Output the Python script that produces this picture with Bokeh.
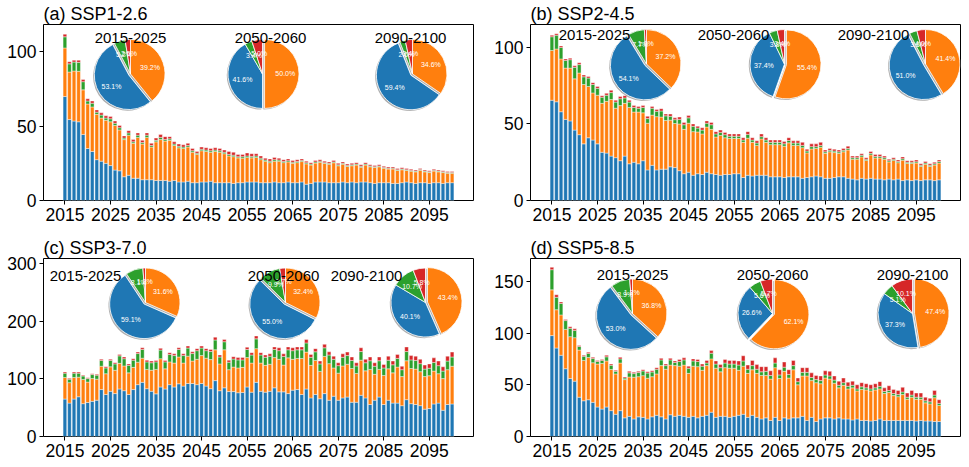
import math
from bokeh.plotting import figure
from bokeh.models import Range1d, FixedTicker, ColumnDataSource
from bokeh.layouts import column, row
from bokeh.core.properties import value
from bokeh.embed import file_html
from bokeh.resources import INLINE

years = list(range(2015, 2101))
colors = ["#1f77b4", "#ff7f0e", "#2ca02c", "#d62728"]
periods = ["2015-2025", "2050-2060", "2090-2100"]

# ---- SSP1-2.6 : four stacked components per year ----
ssp126_c1 = [70, 54.5, 53.5, 53, 44.5, 35, 33, 27.5, 26.5, 25,
             23.5, 20.5, 20, 16, 17, 15, 15, 14, 14, 14,
             13.5, 13.5, 13.5, 13, 13.5, 12.5, 12.5, 13, 12, 12,
             12.5, 12.5, 13, 12, 12, 12, 12, 11.5, 12, 12,
             12.5, 12.5, 12.5, 12, 12, 12, 12.5, 12, 12, 12.5,
             12, 12, 12.5, 11, 11.5, 12.5, 12.5, 12.5, 12, 12,
             12, 12.5, 12, 12.5, 12, 12.5, 12.5, 12, 11.5, 12,
             12, 12, 11.5, 11.5, 12, 12.5, 12, 11.5, 12, 12,
             11.5, 12, 12, 11.5, 12, 12]
ssp126_c2 = [32.7, 32, 33.7, 34, 30, 30, 30, 30.5, 29, 29,
             29.5, 30, 27.5, 25, 27, 23.5, 27.5, 24, 28.5, 22,
             26, 27.5, 26.5, 27.5, 23.5, 23, 22.5, 23, 20.5, 19,
             21, 20.5, 19.5, 21, 20.5, 19.5, 18, 18, 16.7, 16.5,
             16.5, 16.2, 16.5, 15.5, 14.5, 13.5, 14, 14.5, 13.5, 13.5,
             13, 13.5, 13.7, 13.7, 12.4, 12.7, 13.2, 12.4, 12.4, 13.4,
             11.4, 11.9, 10.9, 10.9, 11.9, 9.9, 11.4, 10.7, 10.7, 10.7,
             9.7, 9.2, 9.7, 8.7, 8.7, 7.7, 7.7, 7.8, 8.3, 7.3,
             7.3, 7.8, 7.3, 7.3, 6.3, 6.3]
ssp126_c3 = [7.5, 5.5, 6, 6, 5.5, 2, 2.5, 1.5, 2, 1.5,
             2, 1.5, 1.5, 1, 1.5, 1, 1.5, 1, 1.5, 1,
             1, 1.5, 1, 1, 1, 1, 1, 1, 1, 0.8,
             1, 1, 1, 1, 1, 1, 1, 1, 0.8, 1,
             1, 1, 1, 1, 0.8, 1, 1, 0.8, 0.8, 0.8,
             0.8, 0.8, 0.8, 0.8, 0.6, 0.8, 0.8, 0.6, 0.6, 0.6,
             0.6, 0.6, 0.6, 0.6, 0.6, 0.6, 0.6, 0.5, 0.5, 0.5,
             0.5, 0.5, 0.5, 0.5, 0.5, 0.5, 0.5, 0.5, 0.5, 0.5,
             0.5, 0.5, 0.5, 0.5, 0.5, 0.5]
ssp126_c4 = [1.8, 1.5, 1.3, 1.5, 1.5, 1.5, 1.5, 1.5, 1.5, 1.5,
             1.5, 1.5, 1.5, 1.5, 1.5, 1.5, 1.5, 1.5, 1.5, 1.5,
             1.5, 2, 2, 1.5, 1.5, 1.5, 1.5, 1.5, 1.5, 1.2,
             1.5, 1.5, 1.5, 1.5, 1.5, 1.5, 2, 2, 1.5, 1.5,
             2, 1.8, 1.5, 1.5, 1.2, 1.5, 1.5, 1.2, 1.2, 1.2,
             1.2, 1.2, 1, 1, 1, 1, 1, 1, 1, 1,
             1, 1, 1, 1, 1, 1, 1, 0.8, 0.8, 0.8,
             0.8, 0.8, 0.8, 0.8, 0.8, 0.8, 0.8, 0.7, 0.7, 0.7,
             0.7, 0.7, 0.7, 0.7, 0.7, 0.7]

# ---- SSP2-4.5 ----
ssp245_c1 = [65.5, 64.5, 58, 53, 52, 46, 43, 37, 41, 39.5,
             37, 31.5, 31, 29, 28, 26, 29, 24, 25, 24,
             26, 20, 23, 20, 20.5, 20.5, 22, 21.5, 19.5, 17.5,
             18.5, 16.5, 17.5, 17, 18.5, 17.5, 17, 16.5, 17, 17,
             17.5, 17.5, 15, 16.5, 16, 16.5, 16.5, 16.5, 15.5, 15.5,
             15.5, 15, 15.5, 15.5, 15.5, 14.5, 15, 15.5, 16, 15.5,
             14.5, 14.5, 15, 15.5, 15.5, 14.5, 14, 13.5, 14.5, 14,
             14.5, 14, 14, 13.5, 14, 13.5, 14, 13, 13.5, 13,
             13.5, 13, 13.5, 13.5, 13, 13.5]
ssp245_c2 = [32.5, 34.5, 34.5, 33.5, 34.5, 33.5, 40.3, 38.8, 33.5, 30.8,
             31.8, 32, 33.8, 37, 32.3, 36, 34.5, 36.8, 32.8, 33.8,
             31.3, 30.5, 32.8, 34.8, 34, 31.8, 30.5, 28.8, 30.5, 29,
             32, 28.5, 27.3, 26.5, 29.5, 29, 24.5, 26, 24, 23.5,
             23, 23, 23, 24.2, 22, 19.5, 23.7, 21.5, 21, 21,
             21, 20.5, 22.2, 20.5, 20.5, 20, 16.1, 18.2, 18, 19.3,
             16.3, 17.3, 16.3, 15.3, 16.3, 18.5, 13, 13.5, 14, 12.2,
             15.3, 13.8, 13.8, 13.5, 11.2, 12.7, 10.7, 13.3, 10.7, 11.2,
             11, 9.2, 10.2, 8.7, 10.2, 11]
ssp245_c3 = [9, 9, 7.5, 5, 5.5, 7.5, 5.5, 5, 5.5, 5.5,
             4.5, 4, 4, 4.5, 4, 4.5, 3.5, 3.5, 3, 2.5,
             3.5, 3, 4.5, 3.5, 4, 3, 2.5, 2.5, 3, 3,
             3.5, 3.5, 2.5, 2.5, 2.5, 3, 2, 2, 2, 1.5,
             1.5, 1.5, 1.5, 2.5, 1.5, 1.5, 1.5, 1.5, 1.5, 1.5,
             1.5, 1.5, 1.5, 1.5, 1.5, 1.5, 1.2, 1.5, 1.2, 1.2,
             1, 1, 1, 1, 1, 1, 1, 1, 1, 0.8,
             1, 1, 1, 1, 0.8, 0.8, 0.8, 1, 0.8, 0.8,
             0.8, 0.8, 0.8, 0.8, 0.8, 1]
ssp245_c4 = [1, 1, 1, 1, 1, 1, 1.2, 1.2, 1, 1.2,
             1.2, 1, 1.2, 1.5, 1.2, 1.5, 1.5, 1.2, 1.2, 1.2,
             1.2, 1.5, 1.2, 1.2, 1.5, 1.2, 1.5, 1.2, 1.5, 1.5,
             1.5, 1.5, 1.2, 1.5, 1.5, 1.5, 1.5, 1.5, 1.5, 1.5,
             1.5, 1.5, 1.5, 1.8, 1.5, 1.5, 1.8, 1.5, 1.5, 1.5,
             1.5, 1.5, 1.8, 1.5, 1.5, 2, 1.2, 1.8, 1.8, 2,
             1.2, 1.2, 1.2, 1.2, 1.2, 1.5, 1, 1, 1, 1,
             1.2, 1.2, 1.2, 1, 1, 1, 1, 1.2, 1, 1,
             1.2, 1, 1, 1, 1, 1]

# ---- SSP3-7.0 ----
ssp370_c1 = [65, 58, 65, 69, 57, 59, 61, 63, 81.5, 73,
             78.5, 74.5, 82.5, 79.5, 73, 81.5, 90, 94, 83, 78.5,
             74, 86, 82.5, 90, 86, 91.5, 87.5, 92, 92, 90,
             92, 87.5, 83, 97, 79.5, 84.5, 78, 78, 76, 76.5,
             86, 77, 94, 78.5, 77, 78.5, 84.5, 77.5, 77.5, 74.5,
             80.5, 81.5, 73, 82.5, 67, 73, 65.5, 74.5, 63, 70,
             63, 67, 68.5, 59.5, 59.5, 71.5, 67, 55.5, 63, 68.5,
             55.5, 63, 58, 58, 53.5, 64, 57, 55.5, 53.5, 47.5,
             48.5, 56.5, 58, 45.5, 55.5, 56.5]
ssp370_c2 = [37.5, 35.5, 37.5, 34, 42, 35.5, 39.5, 36.5, 40.5, 36,
             42.5, 40.5, 44.5, 43, 37.5, 38.5, 39, 42, 33.5, 36.5,
             42.5, 49, 35, 39.5, 41.5, 46.5, 40, 47.5, 39, 44,
             48.5, 48.5, 50.5, 53.5, 46.5, 66, 38, 42.5, 43, 43.5,
             51, 50.5, 58.5, 49, 46.5, 47, 52.5, 56.5, 46.5, 62,
             53.5, 54, 62.5, 64, 56.5, 59, 47.5, 64.5, 63.5, 49,
             47, 55.5, 57, 58.5, 50, 61, 47, 61, 45, 48,
             50.5, 54.5, 52.5, 62.5, 50.5, 67.5, 61, 61.5, 59, 56.5,
             57, 57, 51, 55, 60.5, 65.5]
ssp370_c3 = [7.5, 6, 7.5, 7, 6, 6, 7, 7, 10, 10,
             11, 11, 13, 12.5, 13, 12.5, 15, 15, 13, 13,
             13, 15, 12, 13, 13, 13, 13, 14, 13, 15,
             13, 13, 14, 17, 12, 14, 13, 14, 14, 13,
             14, 14, 17, 14, 14, 14, 14, 15, 15, 14,
             15, 15, 15, 16, 14, 15, 13, 15, 15, 15,
             13, 15, 15, 14, 13, 15, 14, 15, 14, 15,
             13, 15, 14, 15, 12, 16, 15, 15, 14, 13,
             13, 15, 14, 13, 15, 16]
ssp370_c4 = [2, 1.5, 2, 2, 1.5, 1.5, 1.5, 1.5, 2, 2,
             2, 2, 2.5, 3, 2.5, 2.5, 2.5, 3, 3, 3,
             2.5, 3, 2.5, 3, 3, 3, 3, 3.5, 3, 3.5,
             3.5, 3.5, 3.5, 5, 3.5, 4, 3.5, 4, 4, 4,
             4, 4, 5, 4, 4, 4, 4.5, 5, 4.5, 5,
             5, 5, 5, 6, 5, 5.5, 5, 6, 5.5, 5.5,
             5, 6, 6, 6, 5.5, 6.5, 6, 6.5, 6, 6.5,
             6, 7, 6.5, 7, 6, 8, 7.5, 7.5, 7.5, 7,
             7.5, 8, 8, 7.5, 8.5, 8.5]

# ---- SSP5-8.5 ----
ssp585_c1 = [97.5, 85.5, 78.5, 65.5, 56, 53.5, 38, 34.5, 35.5, 33,
             28.5, 26.5, 28.5, 25, 21.5, 25, 18, 19.5, 17, 19,
             18.5, 17, 19, 20.5, 19, 17, 21, 19.5, 20.5, 19.5,
             18.5, 19.5, 18, 19.5, 20.5, 23.5, 18.5, 19.5, 19.5, 18.5,
             19.5, 20.5, 21.5, 18.5, 20.5, 18.5, 17, 18, 15.5, 18.5,
             15.5, 18, 17, 18, 18, 19.5, 15.5, 18.5, 14.5, 17,
             18, 18, 17, 18, 17, 17, 16, 17, 15.5, 15.5,
             15, 15.5, 17, 15.5, 15.5, 15.5, 15.5, 15.5, 15.5, 15.5,
             15, 15.5, 15, 15, 14.5, 14.5]
ssp585_c2 = [44.2, 37, 39, 38, 40.5, 42, 45.5, 39, 40.8, 38.3,
             41.5, 44, 44.5, 39.8, 39, 46, 37, 38, 40.3, 38.8,
             40.3, 39.3, 38.8, 40, 49.5, 48, 48, 49, 47.5, 49.5,
             42.5, 48.5, 49.5, 44.5, 48, 51.5, 47.5, 43, 47, 47.5,
             46.5, 43.5, 46.5, 42.5, 44, 42.5, 42, 41, 40, 48,
             40.5, 45, 39.5, 46.5, 32, 39, 43, 35.5, 37.5, 34,
             38.5, 37.5, 34.5, 29, 32.5, 29, 31, 27, 30, 29.5,
             29, 29.5, 29, 26, 27, 24, 23, 25, 20.5, 22.5,
             21, 20.5, 17.5, 16.5, 23, 15.5]
ssp585_c3 = [19.5, 12, 11, 8.5, 8, 7, 3.5, 4, 4, 4,
             2.5, 3, 4, 4, 2.5, 4, 1.5, 4, 3.5, 4,
             4.5, 5, 4.5, 4.5, 5.5, 3.5, 5, 3, 4.5, 5,
             5, 5, 5, 4, 2.5, 5.5, 4, 4, 4.5, 4,
             4, 5, 5, 4, 4, 4, 3.5, 4, 3.5, 4.5,
             3.5, 4, 3.5, 4, 3, 3.5, 3.5, 3, 3, 3,
             3, 3, 3, 2.5, 2.5, 2.5, 2.5, 2, 2.5, 2,
             2, 2, 2.5, 2, 2, 2, 2, 2.5, 2, 2,
             2, 2, 2, 2, 2.5, 2]
ssp585_c4 = [2.3, 2.5, 1.5, 1, 1.5, 1.5, 1, 1, 1.2, 1.2,
             1, 1, 1.5, 1.2, 1, 1.5, 1, 1.5, 1.2, 1.2,
             1.2, 1.2, 1.2, 1.5, 1.5, 1.5, 1.5, 1.5, 2, 2,
             2, 2, 2, 2, 2.5, 2.5, 3, 3, 3.5, 3.5,
             3.5, 4, 5, 4, 5, 4.5, 5, 4.5, 4.5, 5,
             5, 5, 4.5, 5, 3.5, 4.5, 4.5, 4.5, 4, 4.5,
             4, 4.5, 4, 4, 4.5, 4, 4, 4, 4, 4,
             4, 4, 4.5, 3.5, 4.5, 4, 4, 4.5, 4, 4.5,
             4, 4, 3.5, 3.5, 4.5, 3.5]

# ---- period shares (%) in component order ----
pie126_2015 = [53.1, 39.2, 5.2, 2.5]
pie126_2050 = [41.6, 50.0, 3.4, 5.0]
pie126_2090 = [59.4, 34.6, 2.6, 3.4]
pie245_2015 = [54.1, 37.2, 7.7, 1.0]
pie245_2050 = [37.4, 55.4, 3.8, 3.4]
pie245_2090 = [51.0, 41.4, 3.6, 4.0]
pie370_2015 = [59.1, 31.6, 8.1, 1.2]
pie370_2050 = [55.0, 32.4, 9.9, 2.7]
pie370_2090 = [40.1, 43.4, 10.7, 5.8]
pie585_2015 = [53.0, 36.8, 8.9, 1.3]
pie585_2050 = [26.6, 62.1, 5.6, 5.7]
pie585_2090 = [37.3, 47.4, 5.1, 10.1]

FONT = "Liberation Sans"
FW, FH = 430, 178
PIE_R = 34.5
PX = dict(x_range_name="px", y_range_name="py")


def add_pie(p, shares, cx, cy):
    total = float(sum(shares))
    big = shares.index(max(shares))
    order = [1, 0, 2, 3]          # clockwise from 12 o'clock
    start = 0.0
    wx, wy, a0, a1, fc = [], [], [], [], []
    lx, ly, lt = [], [], []
    for i in order:
        frac = shares[i] / total
        hi = math.pi / 2 - 2 * math.pi * start
        lo = math.pi / 2 - 2 * math.pi * (start + frac)
        mid = 0.5 * (hi + lo)
        off = 0.06 * PIE_R if i == big else 0.0
        x = cx + off * math.cos(mid)
        y = cy + off * math.sin(mid)
        wx.append(x); wy.append(y); a0.append(lo); a1.append(hi); fc.append(colors[i])
        lx.append(x + 0.6 * PIE_R * math.cos(mid))
        ly.append(y + 0.6 * PIE_R * math.sin(mid))
        lt.append("%.1f%%" % shares[i])
        start += frac
    # soft drop shadow, then the wedges, then the percentages
    p.wedge(x=[v - 1.2 for v in wx], y=[v - 1.2 for v in wy], radius=PIE_R,
            radius_units="screen", start_angle=a0, end_angle=a1,
            fill_color="#6e6e6e", fill_alpha=0.55, line_color=None, **PX)
    p.wedge(x=wx, y=wy, radius=PIE_R, radius_units="screen",
            start_angle=a0, end_angle=a1, fill_color=fc, line_color="white",
            line_width=0.8, **PX)
    p.text(x=lx, y=ly, text=lt, text_color="white", text_font=value(FONT),
           text_font_size="7px", text_align="center", text_baseline="middle", **PX)


def panel(title, comps, ymax, yticks, pies, pie_xy, title_xy, borders):
    left, right, top, bottom = borders
    p = figure(width=left + FW + right, height=top + FH + bottom,
               min_border_left=left, min_border_right=right,
               min_border_top=top, min_border_bottom=bottom,
               x_range=Range1d(2010.3, 2104.7), y_range=Range1d(0, ymax),
               output_backend="svg", toolbar_location=None, title=title)
    p.extra_x_ranges = {"px": Range1d(0, FW)}
    p.extra_y_ranges = {"py": Range1d(0, FH)}
    src = ColumnDataSource(dict(year=years, c1=comps[0], c2=comps[1],
                                c3=comps[2], c4=comps[3]))
    p.vbar_stack(["c1", "c2", "c3", "c4"], x="year", width=0.8, color=colors,
                 line_color="white", line_width=0.4, source=src)
    for shares, (cx, cy) in zip(pies, pie_xy):
        add_pie(p, shares, cx, cy)
    p.text(x=[t[0] for t in title_xy], y=[t[1] for t in title_xy], text=periods,
           text_color="black", text_font=value(FONT), text_font_size="15px",
           text_align="center", text_baseline="alphabetic", **PX)

    p.title.text_font = FONT
    p.title.text_font_size = "18px"
    p.title.text_font_style = "normal"
    p.title.text_color = "black"
    p.title.align = "left"
    p.title.standoff = 2
    p.xgrid.visible = False
    p.ygrid.visible = False
    p.outline_line_color = "black"
    p.outline_line_width = 1
    p.xaxis.ticker = FixedTicker(ticks=list(range(2015, 2100, 10)))
    p.yaxis.ticker = FixedTicker(ticks=yticks)
    for ax in (p.xaxis[0], p.yaxis[0]):
        ax.axis_line_color = None
        ax.major_tick_in = 0
        ax.major_tick_out = 4
        ax.major_tick_line_color = "black"
        ax.minor_tick_line_color = None
        ax.major_label_text_font = FONT
        ax.major_label_text_font_size = "17.5px"
        ax.major_label_text_color = "black"
        ax.major_label_standoff = 3
    return p


pa = panel("(a) SSP1-2.6", [ssp126_c1, ssp126_c2, ssp126_c3, ssp126_c4], 118.5, [0, 50, 100],
           [pie126_2015, pie126_2050, pie126_2090],
           [(87, 128), (219, 128), (369, 128)], [(87, 164), (227, 164), (367, 164)],
           (43, 14, 22, 30))
pb = panel("(b) SSP2-4.5", [ssp245_c1, ssp245_c2, ssp245_c3, ssp245_c4], 115, [0, 50, 100],
           [pie245_2015, pie245_2050, pie245_2090],
           [(116, 138), (254, 138), (395, 138)], [(64, 167), (203, 167), (343, 167)],
           (43, 9, 22, 30))
pc = panel("(c) SSP3-7.0", [ssp370_c1, ssp370_c2, ssp370_c3, ssp370_c4], 309, [0, 100, 200, 300],
           [pie370_2015, pie370_2050, pie370_2090],
           [(102, 134), (242, 134), (382, 134)], [(42, 161), (240, 161), (323, 161)],
           (43, 14, 28, 30))
pd_ = panel("(d) SSP5-8.5", [ssp585_c1, ssp585_c2, ssp585_c3, ssp585_c4], 172, [0, 50, 100, 150],
            [pie585_2015, pie585_2050, pie585_2090],
            [(102, 123), (242, 123), (382, 123)], [(102, 162), (242, 162), (382, 162)],
            (43, 9, 28, 30))

layout = column(row(pa, pb), row(pc, pd_))
open("out.html", "w").write(file_html(layout, INLINE))
